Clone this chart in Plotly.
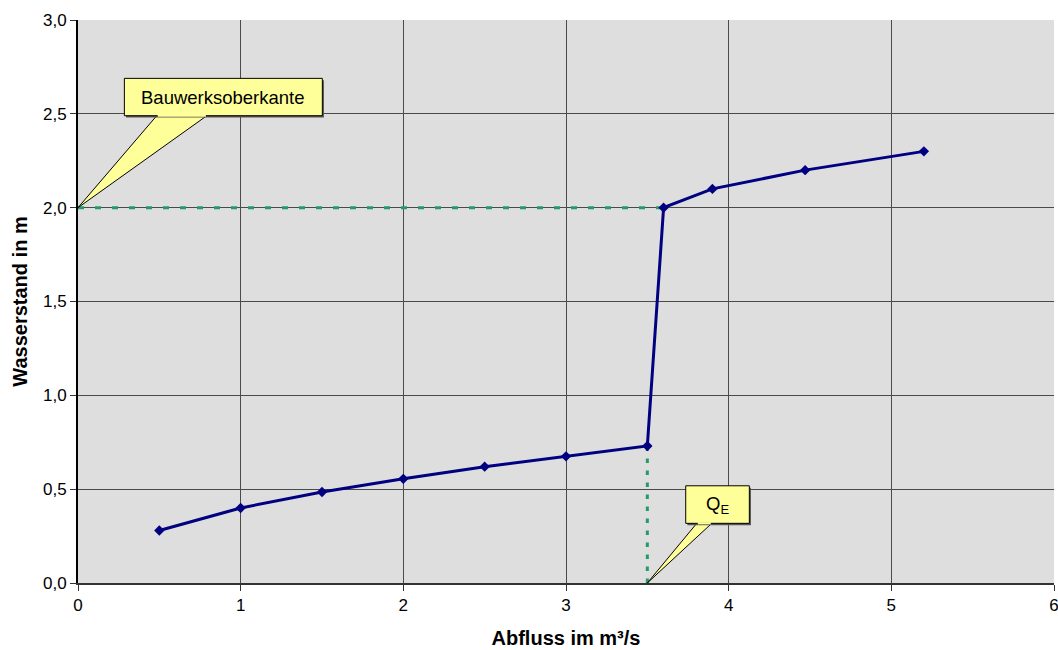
import plotly.graph_objects as go

# Data
abfluss = [0.5, 1.0, 1.5, 2.0, 2.5, 3.0, 3.5, 3.6, 3.9, 4.47, 5.2]
wasserstand = [0.28, 0.40, 0.485, 0.555, 0.62, 0.675, 0.73, 2.0, 2.1, 2.2, 2.3]
x_ticks = [0, 1, 2, 3, 4, 5, 6]
y_ticks = [0.0, 0.5, 1.0, 1.5, 2.0, 2.5, 3.0]
y_tick_labels = ["0,0", "0,5", "1,0", "1,5", "2,0", "2,5", "3,0"]
oberkante_x = [0, 3.6]
oberkante_y = [2.0, 2.0]
qe_x = [3.5, 3.5]
qe_y = [0.0, 0.73]

FONT = "Liberation Sans, Arial, sans-serif"
GREEN = "#239B68"

fig = go.Figure()
fig.add_trace(go.Scatter(x=oberkante_x, y=oberkante_y, mode="lines",
                         line=dict(color=GREEN, width=3, dash="6px,11px"),
                         hoverinfo="skip", showlegend=False))
fig.add_trace(go.Scatter(x=qe_x, y=qe_y, mode="lines",
                         line=dict(color=GREEN, width=3, dash="4.5px,7.5px"),
                         hoverinfo="skip", showlegend=False))
fig.add_trace(go.Scatter(x=abfluss, y=wasserstand, mode="lines+markers",
                         line=dict(color="#000080", width=3),
                         marker=dict(symbol="diamond", size=8, color="#000080"),
                         showlegend=False))

YEL = "#FFFF99"
# Callout 1: Bauwerksoberkante
fig.add_shape(type="path", xref="x", yref="y",
              path="M 0.484 2.49 L 0 2.0 L 0.792 2.49 Z",
              fillcolor=YEL, line=dict(color="black", width=1), layer="above")
fig.add_shape(type="rect", xref="x", yref="y", x0=0.295, x1=1.512, y0=2.48, y1=2.679,
              fillcolor="#555555", line=dict(width=0), layer="above")
fig.add_shape(type="rect", xref="x", yref="y", x0=0.285, x1=1.502, y0=2.49, y1=2.689,
              fillcolor=YEL, line=dict(color="black", width=1), layer="above")
fig.add_shape(type="line", xref="x", yref="y", x0=0.49, x1=0.786, y0=2.49, y1=2.49,
              line=dict(color=YEL, width=2), layer="above")
fig.add_annotation(x=0.8935, y=2.5895, xref="x", yref="y", text="Bauwerksoberkante",
                   showarrow=False, font=dict(family=FONT, size=18.5, color="black"))

# Callout 2: Q_E
fig.add_shape(type="path", xref="x", yref="y",
              path="M 3.804 0.318 L 3.5 0.0 L 3.896 0.318 Z",
              fillcolor=YEL, line=dict(color="black", width=1), layer="above")
fig.add_shape(type="rect", xref="x", yref="y", x0=3.746, x1=4.137, y0=0.308, y1=0.508,
              fillcolor="#555555", line=dict(width=0), layer="above")
fig.add_shape(type="rect", xref="x", yref="y", x0=3.736, x1=4.127, y0=0.318, y1=0.518,
              fillcolor=YEL, line=dict(color="black", width=1), layer="above")
fig.add_shape(type="line", xref="x", yref="y", x0=3.81, x1=3.89, y0=0.318, y1=0.318,
              line=dict(color=YEL, width=2), layer="above")
fig.add_annotation(x=3.9315, y=0.418, xref="x", yref="y", text="Q<sub>E</sub>",
                   showarrow=False, font=dict(family=FONT, size=18.5, color="black"))

fig.update_layout(
    width=1058, height=650,
    margin=dict(l=78, r=4, t=20, b=67),
    paper_bgcolor="white", plot_bgcolor="#DEDEDE",
    font=dict(family=FONT, size=17, color="black"),
)
fig.update_xaxes(range=[0, 6], tickvals=x_ticks, ticktext=[str(v) for v in x_ticks],
                 showgrid=True, gridcolor="#4A4A4A", gridwidth=1,
                 showline=True, linecolor="#333333", linewidth=2,
                 ticks="outside", ticklen=6, tickcolor="#333333",
                 zeroline=False, ticklabeloverflow="allow", automargin=False,
                 title=dict(text="<b>Abfluss im m³/s</b>", font=dict(size=20), standoff=17))
fig.update_yaxes(range=[0, 3], tickvals=y_ticks, ticktext=y_tick_labels,
                 showgrid=True, gridcolor="#4A4A4A", gridwidth=1,
                 showline=True, linecolor="black", linewidth=2,
                 ticks="outside", ticklen=6, tickcolor="#333333",
                 zeroline=False, ticklabeloverflow="allow", automargin=False,
                 title=dict(text="<b>Wasserstand in m</b>", font=dict(size=20), standoff=10))

fig.write_html("out.html")
